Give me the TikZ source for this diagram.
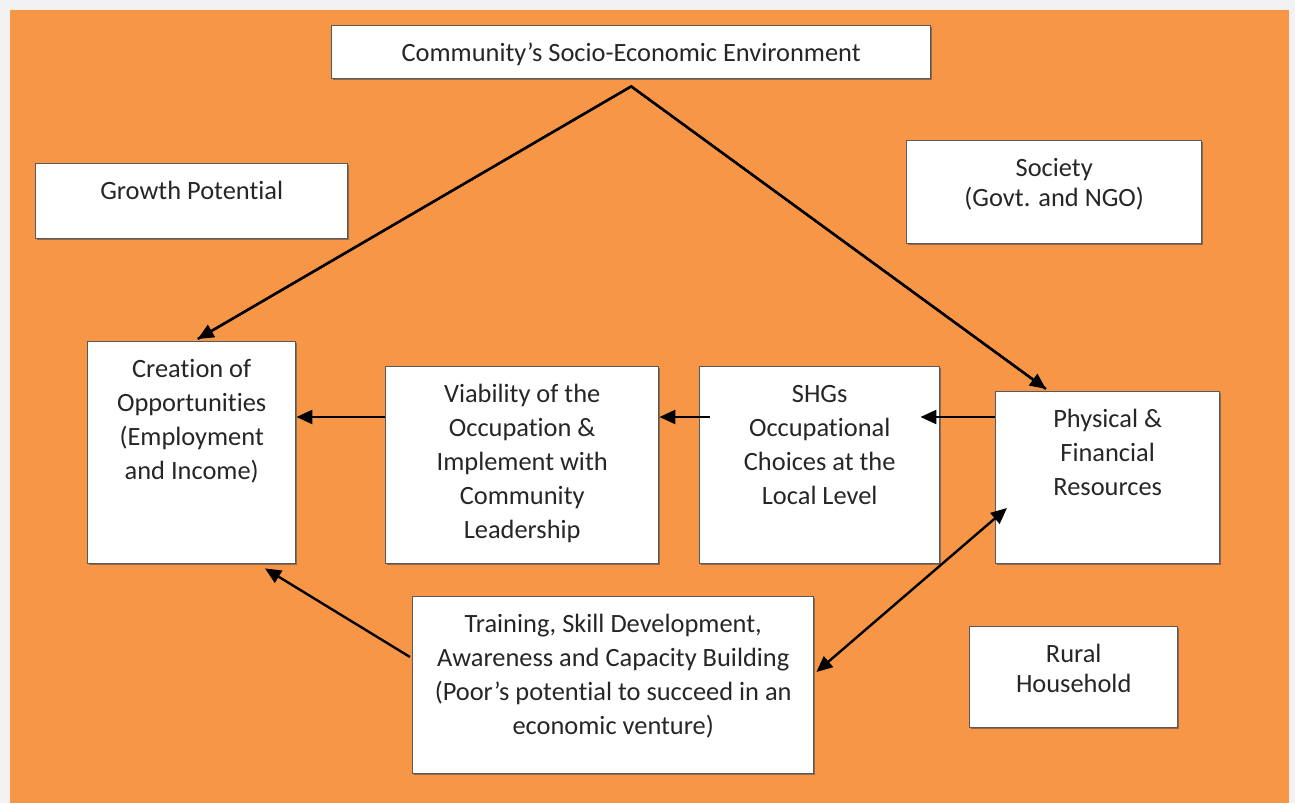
\documentclass[tikz,border=0pt]{standalone}
\usepackage{fontspec}
\setmainfont{Carlito}[Ligatures=NoCommon]
\usetikzlibrary{arrows.meta,calc,shadows}

\definecolor{pageorange}{HTML}{F79646}
\definecolor{pagegray}{HTML}{F2F2F2}
\definecolor{boxline}{HTML}{595959}

\newlength{\px}
\setlength{\px}{0.5pt}
% width, height (in px), text
\newcommand{\boxtext}[3]{\parbox[t][#2\px][t]{#1\px}{\centering\rule{0pt}{18pt}#3}}

\begin{document}
\begin{tikzpicture}[x=0.5pt, y=-0.5pt,
	panel/.style = {draw=boxline, line width=0.7pt, fill=white, inner sep=0pt, anchor=north west,
		text=black!85, font=\fontsize{13.2}{17}\selectfont,
		drop shadow={shadow xshift=0.8pt, shadow yshift=-0.8pt, fill=black!70, opacity=0.6}},
	arr/.style = {-{Triangle[length=8pt, width=7pt]}, line width=1.2pt},
	dbl/.style = {{Triangle[length=8pt, width=7pt]}-{Triangle[length=8pt, width=7pt]}, line width=1.2pt}]
	\fill[pagegray] (0,0) rectangle (1295,803);
	\fill[pageorange] (10,10) rectangle (1289,803);

	\node[panel] (env) at (331,25) {\boxtext{599}{53}{Community’s Socio-Economic Environment}};
	\node[panel] (growth) at (35,163) {\boxtext{312}{75}{Growth Potential}};
	\node[panel] (society) at (906,140) {\boxtext{295}{103}{Society\\[-2pt] (Govt. and NGO)}};
	\node[panel] (creat) at (87,341) {\boxtext{208}{222}{Creation of\\ Opportunities\\ (Employment\\ and Income)}};
	\node[panel] (via) at (385,366) {\boxtext{273}{197}{Viability of the\\ Occupation \&\\ Implement with\\ Community\\ Leadership}};
	\node[panel] (shg) at (699,366) {\boxtext{240}{197}{SHGs\\ Occupational\\ Choices at the\\ Local Level}};
	\node[panel] (phys) at (995,391) {\boxtext{224}{172}{Physical \&\\ Financial\\ Resources}};
	\node[panel] (train) at (412,596) {\boxtext{401}{177}{Training, Skill Development,\\ Awareness and Capacity Building\\ (Poor’s potential to succeed in an\\ economic venture)}};
	\node[panel] (rural) at (969,626) {\boxtext{208}{101}{Rural\\[-2pt] Household}};

	\coordinate (apex) at ($(env.south)+(0,7)$);
	\coordinate (row) at (0,417);

	% the two branches from the environment box
	\draw[line width=1.2pt, line join=miter] ($(creat.north)+(6,-2)$) -- (apex) -- ($(phys.north west)+(51,-2)$);
	\draw[arr] (apex) -- ($(creat.north)+(6,-2)$);
	\draw[arr] (apex) -- ($(phys.north west)+(51,-2)$);

	% flow along the middle row
	\draw[arr] ($(phys.west |- row)$) -- ($(shg.east |- row)+(-20,0)$);
	\draw[arr] ($(shg.west |- row)+(11,0)$) -- (via.east |- row);
	\draw[arr] (via.west |- row) -- (creat.east |- row);

	% training links
	\draw[arr] ($(train.north west)+(-2,61)$) -- ($(creat.south west)+(178,4)$);
	\draw[dbl] ($(train.north east)+(2,76)$) -- ($(phys.north west)+(12,117)$);
\end{tikzpicture}
\end{document}
